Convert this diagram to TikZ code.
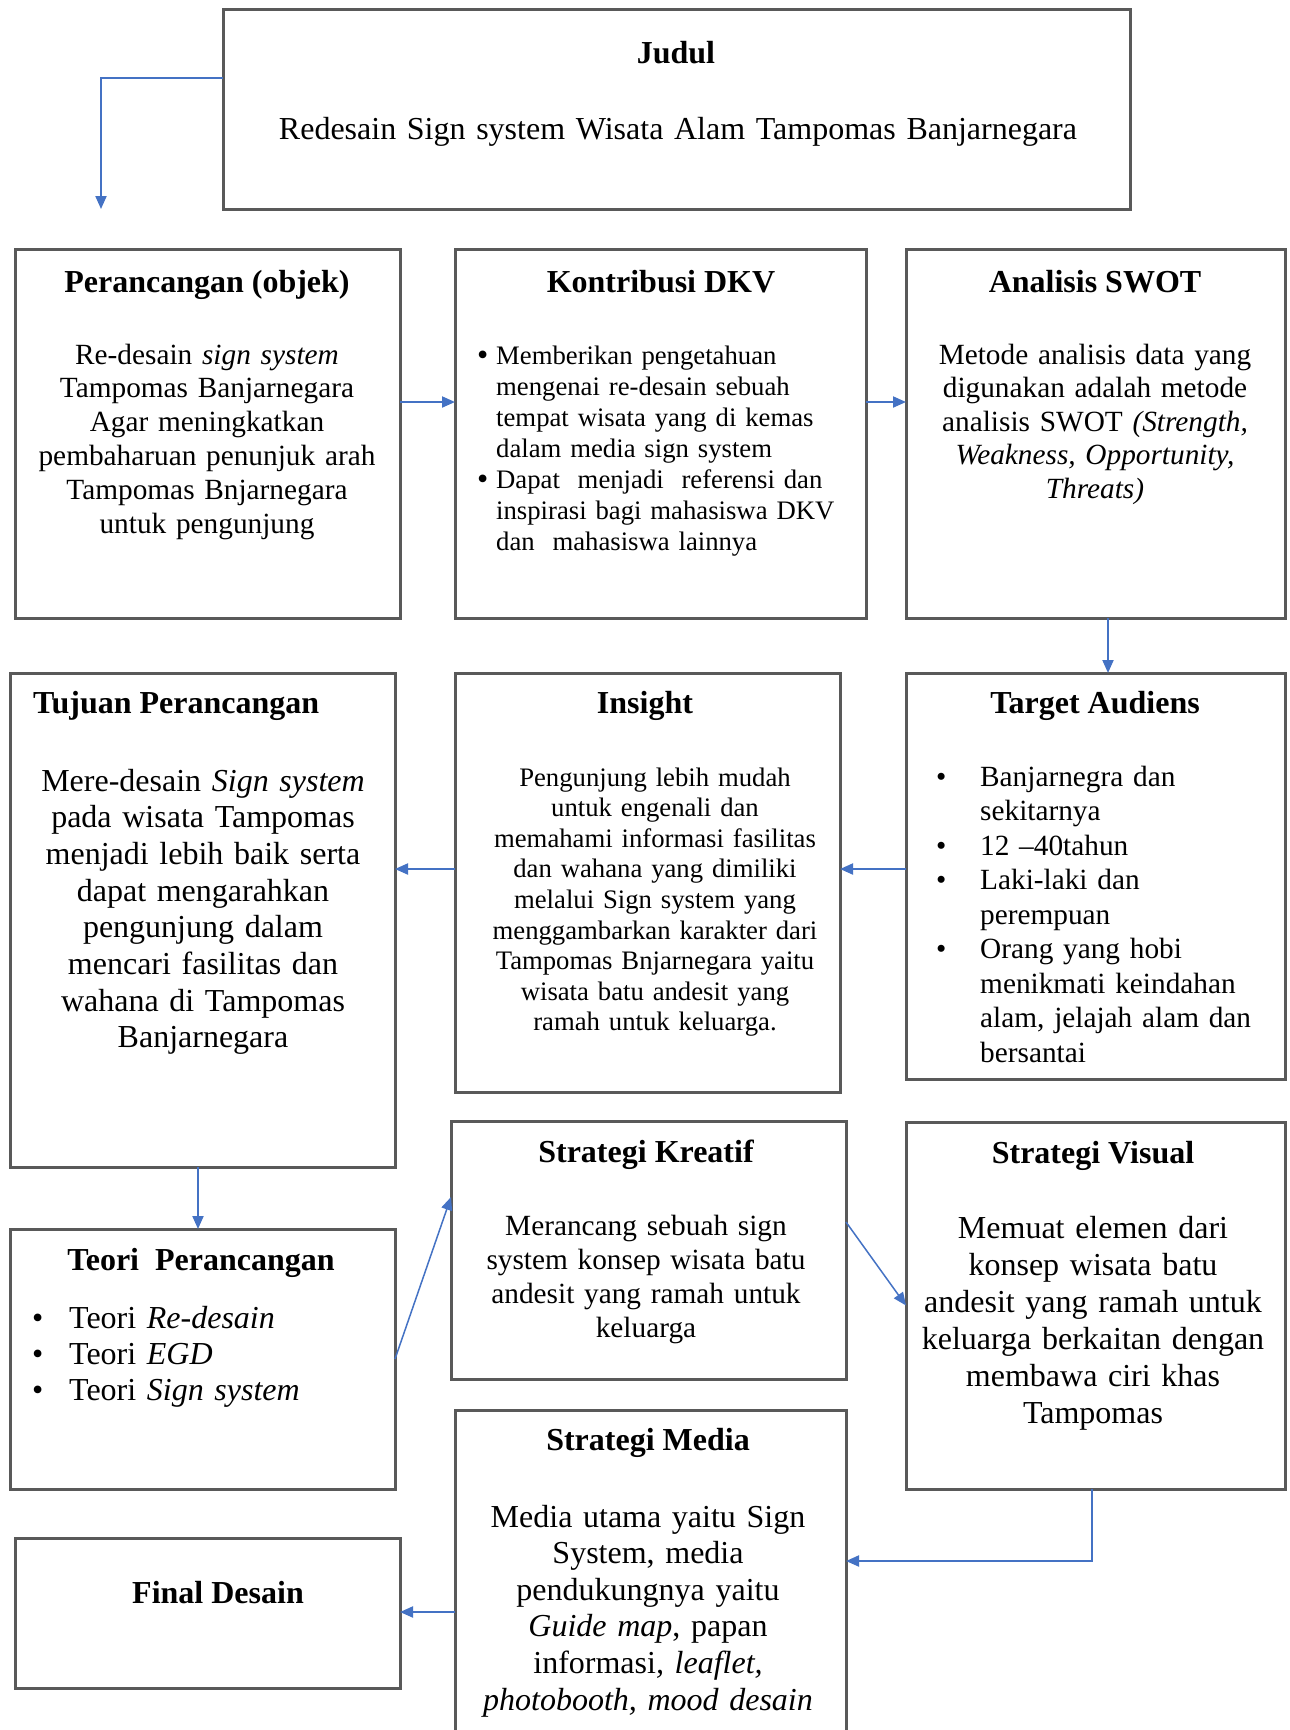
\documentclass[tikz,border=0pt]{standalone}
\usepackage{fontspec}
\setmainfont{Liberation Serif}
\usetikzlibrary{arrows.meta}
\definecolor{boxgray}{RGB}{89,89,89}
\definecolor{arrblue}{RGB}{68,114,196}
\newcommand\fsz[2]{\fontsize{#1pt}{#2pt}\selectfont}
\newcommand\bul{\raisebox{-0.04em}{\scalebox{1.2}{\textbullet}}}
\begin{document}
\begin{tikzpicture}[x=1pt,y=-1pt,
 box/.style={draw=boxgray,line width=3pt,inner sep=0pt,outer sep=0pt,rectangle},
 arr/.style={draw=arrblue,line width=2pt,-{Triangle[length=13pt,width=11pt]}},
 ttl/.style={font=\fsz{32}{37}\bfseries,anchor=base,inner sep=0pt},
 txt/.style={anchor=base,inner sep=0pt,align=center,text width=370pt},
 lst/.style={anchor=base west,inner sep=0pt,align=left,text width=400pt},
]
\useasboundingbox (0,0) rectangle (1290,1730);
\clip (0,0) rectangle (1290,1730);
\fill[white] (0,0) rectangle (1290,1730);

% boxes
\node[box,minimum width=907pt,minimum height=200pt] (judul) at (676.5,109) {};
\node[box,minimum width=385pt,minimum height=369pt] (perc) at (207.5,433.5) {};
\node[box,minimum width=411pt,minimum height=369pt] (kontr) at (660.5,433.5) {};
\node[box,minimum width=379pt,minimum height=369pt] (swot) at (1095.5,433.5) {};
\node[box,minimum width=385pt,minimum height=494pt] (tujuan) at (202.5,920) {};
\node[box,minimum width=385pt,minimum height=419pt] (insight) at (647.5,882.5) {};
\node[box,minimum width=379pt,minimum height=406pt] (target) at (1095.5,876) {};
\node[box,minimum width=385pt,minimum height=260pt] (teori) at (202.5,1359) {};
\node[box,minimum width=395pt,minimum height=258pt] (kreatif) at (648.5,1250) {};
\node[box,minimum width=379pt,minimum height=367pt] (visual) at (1095.5,1305.5) {};
\node[box,minimum width=391pt,minimum height=360pt] (media) at (650.5,1590) {};
\node[box,minimum width=385pt,minimum height=150pt] (final) at (207.5,1613) {};

% texts
\node[ttl] (judul-t) at (676,63) {Judul};
\node[txt,text width=900pt,font=\fsz{32}{37}] (judul-b) at (678,139) {Redesain Sign system Wisata Alam Tampomas Banjarnegara};

\node[ttl] (perc-t) at (207,292) {Perancangan (objek)};
\node[txt,font=\fsz{29.3}{33.8}] (perc-b) at (207,364) {Re-desain \textit{sign system}\\Tampomas Banjarnegara\\Agar meningkatkan\\pembaharuan penunjuk arah\\Tampomas Bnjarnegara\\untuk pengunjung};

\node[ttl] (kontr-t) at (661,292) {Kontribusi DKV};
\node[lst,font=\fsz{26.7}{31}] (kontr-b) at (477,364) {\makebox[19pt][l]{\bul}Memberikan pengetahuan\\\hspace*{19pt}mengenai re-desain sebuah\\\hspace*{19pt}tempat wisata yang di kemas\\\hspace*{19pt}dalam media sign system\\\makebox[19pt][l]{\bul}Dapat~~menjadi~~referensi dan\\\hspace*{19pt}inspirasi bagi mahasiswa DKV\\\hspace*{19pt}dan~~mahasiswa lainnya};

\node[ttl] (swot-t) at (1095,292) {Analisis SWOT};
\node[txt,font=\fsz{29.3}{33.5}] (swot-b) at (1095,364) {Metode analisis data yang\\digunakan adalah metode\\analisis SWOT \textit{(Strength,}\\\textit{Weakness, Opportunity,}\\\textit{Threats)}};

\node[ttl,anchor=base west] (tujuan-t) at (33,713) {Tujuan Perancangan};
\node[txt,font=\fsz{32}{36.7}] (tujuan-b) at (203,791) {Mere-desain \textit{Sign system}\\pada wisata Tampomas\\menjadi lebih baik serta\\dapat mengarahkan\\pengunjung dalam\\mencari fasilitas dan\\wahana di Tampomas\\Banjarnegara};

\node[ttl] (insight-t) at (645,713) {Insight};
\node[txt,font=\fsz{26.7}{30.6}] (insight-b) at (655,786) {Pengunjung lebih mudah\\untuk engenali dan\\memahami informasi fasilitas\\dan wahana yang dimiliki\\melalui Sign system yang\\menggambarkan karakter dari\\Tampomas Bnjarnegara yaitu\\wisata batu andesit yang\\ramah untuk keluarga.};

\node[ttl] (target-t) at (1095,713) {Target Audiens};
\node[lst,font=\fsz{29.3}{34.5}] (target-b) at (936,786) {\makebox[44pt][l]{\textbullet}Banjarnegra dan\\\hspace*{44pt}sekitarnya\\\makebox[44pt][l]{\textbullet}12 –40tahun\\\makebox[44pt][l]{\textbullet}Laki-laki dan\\\hspace*{44pt}perempuan\\\makebox[44pt][l]{\textbullet}Orang yang hobi\\\hspace*{44pt}menikmati keindahan\\\hspace*{44pt}alam, jelajah alam dan\\\hspace*{44pt}bersantai};

\node[ttl] (teori-t) at (201,1270) {Teori~~Perancangan};
\node[lst,font=\fsz{32}{36}] (teori-b) at (32,1328) {\makebox[37pt][l]{\textbullet}Teori \textit{Re-desain}\\\makebox[37pt][l]{\textbullet}Teori \textit{EGD}\\\makebox[37pt][l]{\textbullet}Teori \textit{Sign system}};

\node[ttl] (kreatif-t) at (646,1162) {Strategi Kreatif};
\node[txt,font=\fsz{29.3}{34}] (kreatif-b) at (646,1235) {Merancang sebuah sign\\system konsep wisata batu\\andesit yang ramah untuk\\keluarga};

\node[ttl] (visual-t) at (1093,1163) {Strategi Visual};
\node[txt,font=\fsz{32}{37}] (visual-b) at (1093,1238) {Memuat elemen dari\\konsep wisata batu\\andesit yang ramah untuk\\keluarga berkaitan dengan\\membawa ciri khas\\Tampomas};

\node[ttl] (media-t) at (648,1450) {Strategi Media};
\node[txt,font=\fsz{32}{36.6}] (media-b) at (648,1527) {Media utama yaitu Sign\\System, media\\pendukungnya yaitu\\\textit{Guide map}, papan\\informasi\textit{, leaflet,}\\\textit{photobooth, mood desain}};

\node[ttl] (final-t) at (218,1603) {Final Desain};

% helper coordinates
\coordinate (cj) at (101,78);
\coordinate (jend) at (101,209);
\coordinate (r1) at (0,402);
\coordinate (cx4) at (1108,0);
\coordinate (r2) at (0,869);
\coordinate (cx7) at (198,0);
\coordinate (c8) at (0,1197);
\coordinate (c9) at (0,1222);
\coordinate (c10) at (0,1561);
\coordinate (cx10) at (1092,0);
\coordinate (c11) at (0,1612);

% connectors
\draw[arr] (judul.west |- cj) -| (jend);
\draw[arr] (perc.east |- r1) -- (kontr.west |- r1);
\draw[arr] (kontr.east |- r1) -- (swot.west |- r1);
\draw[arr] (swot.south -| cx4) -- (target.north -| cx4);
\draw[arr] (target.west |- r2) -- (insight.east |- r2);
\draw[arr] (insight.west |- r2) -- (tujuan.east |- r2);
\draw[arr] (tujuan.south -| cx7) -- (teori.north -| cx7);
\draw[arr,line width=1.5pt] (teori.east) -- (kreatif.west |- c8);
\draw[arr,line width=1.5pt] (kreatif.east |- c9) -- (visual.west);
\draw[arr] (visual.south -| cx10) |- (media.east |- c10);
\draw[arr] (media.west |- c11) -- (final.east |- c11);
\end{tikzpicture}
\end{document}
